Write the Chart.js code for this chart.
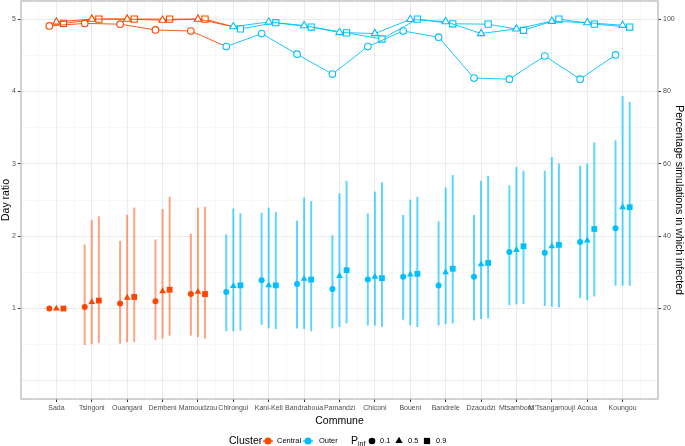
<!DOCTYPE html>
<html>
<head>
<meta charset="utf-8">
<script src="https://cdn.jsdelivr.net/npm/chart.js@4.4.1/dist/chart.umd.min.js"></script>
<style>
  html, body { margin: 0; padding: 0; background: #fff; }
</style>
</head>
<body>
<canvas id="chart" width="685" height="446"></canvas>
<script>
// Communes in plotting order
const communes = ['Sada', 'Tsingoni', 'Ouangani', 'Dembeni', 'Mamoudzou', 'Chirongui', 'Kani-Keli',
  'Bandraboua', 'Pamandzi', 'Chiconi', 'Boueni', 'Bandrele', 'Dzaoudzi', 'Mtsamboro',
  "M'Tsangamouji", 'Acoua', 'Koungou'];
const clusters = ['Central', 'Central', 'Central', 'Central', 'Central', 'Outer', 'Outer', 'Outer',
  'Outer', 'Outer', 'Outer', 'Outer', 'Outer', 'Outer', 'Outer', 'Outer', 'Outer'];
const pinfLevels = ['0.1', '0.5', '0.9'];

// Day ratio (left axis) with intervals
const ratio01 = [1.00, 1.02, 1.07, 1.10, 1.20, 1.23, 1.39, 1.34, 1.27, 1.40, 1.44, 1.32, 1.44, 1.78, 1.77, 1.92, 2.11];
const ratio05 = [1.00, 1.09, 1.15, 1.24, 1.23, 1.31, 1.32, 1.41, 1.45, 1.44, 1.47, 1.50, 1.61, 1.81, 1.86, 1.94, 2.40];
const ratio09 = [1.00, 1.11, 1.16, 1.26, 1.20, 1.32, 1.32, 1.40, 1.53, 1.42, 1.48, 1.55, 1.63, 1.86, 1.88, 2.10, 2.40];
const low01 = [1.00, 0.50, 0.52, 0.57, 0.63, 0.69, 0.78, 0.73, 0.73, 0.77, 0.85, 0.77, 0.84, 1.05, 1.04, 1.15, 1.32];
const high01 = [1.00, 1.88, 1.93, 1.95, 2.03, 2.02, 2.32, 2.21, 2.01, 2.31, 2.29, 2.20, 2.29, 2.70, 2.90, 2.97, 3.32];
const low05 = [1.00, 0.51, 0.54, 0.59, 0.61, 0.69, 0.73, 0.72, 0.75, 0.77, 0.77, 0.79, 0.86, 1.06, 1.03, 1.12, 1.32];
const high05 = [1.00, 2.22, 2.29, 2.37, 2.39, 2.38, 2.39, 2.53, 2.59, 2.61, 2.50, 2.67, 2.76, 2.95, 3.09, 3.00, 3.93];
const low09 = [1.00, 0.53, 0.54, 0.63, 0.59, 0.70, 0.72, 0.69, 0.80, 0.75, 0.75, 0.80, 0.87, 1.07, 1.02, 1.17, 1.32];
const high09 = [1.00, 2.27, 2.39, 2.54, 2.40, 2.31, 2.33, 2.48, 2.76, 2.74, 2.54, 2.84, 2.83, 2.90, 3.00, 3.29, 3.85];

// Percentage of simulations in which infected (right axis)
const pct01 = [98.1, 98.8, 98.6, 97.0, 96.7, 92.4, 96.0, 90.3, 84.8, 92.4, 96.7, 95.0, 83.7, 83.4, 89.8, 83.4, 90.1];
const pct05 = [99.2, 100, 100, 99.7, 100, 97.9, 99.2, 98.2, 96.3, 96.0, 99.9, 99.3, 96.0, 97.3, 99.4, 99.0, 98.3];
const pct09 = [98.8, 100, 100, 100, 100, 97.3, 99.0, 97.8, 96.2, 94.5, 100, 98.7, 98.6, 96.9, 100, 98.6, 97.8];

// Axis ticks
const dayTicks = [1, 2, 3, 4, 5];
const pctTicks = [20, 40, 60, 80, 100];

const RED = '#FF4500';
const BLUE = '#00BFFF';
const FONT = "'Liberation Sans', Arial, sans-serif";
const colorOf = (i) => clusters[i] === 'Central' ? RED : BLUE;
const barColorOf = (i) => clusters[i] === 'Central' ? 'rgba(255,69,0,0.5)' : 'rgba(0,191,255,0.65)';

const shapes = ['circle', 'triangle', 'rect'];
const radii = [3.3, 4.2, 4.4];
const dodge = [-0.2, 0, 0.2];
const ratios = [ratio01, ratio05, ratio09];
const lows = [low01, low05, low09];
const highs = [high01, high05, high09];
const pcts = [pct01, pct05, pct09];

Chart.defaults.font.family = FONT;

const datasets = [];
pinfLevels.forEach((p, k) => {
    // interval bars
    datasets.push({
        type: 'bar',
        label: 'interval ' + p,
        data: communes.map((c, i) => ({ x: i + 1 + dodge[k], y: [lows[k][i], highs[k][i]] })),
        backgroundColor: communes.map((c, i) => barColorOf(i)),
        barThickness: 1.3,
        grouped: false,
        borderWidth: 0,
        yAxisID: 'y',
        order: 3
    });
    // day ratio points
    datasets.push({
        type: 'line',
        label: 'ratio ' + p,
        data: communes.map((c, i) => ({ x: i + 1 + dodge[k], y: ratios[k][i] })),
        showLine: false,
        pointStyle: shapes[k],
        pointRadius: radii[k] - 0.3,
        pointBorderWidth: 0,
        pointBackgroundColor: communes.map((c, i) => colorOf(i)),
        pointBorderColor: communes.map((c, i) => colorOf(i)),
        yAxisID: 'y',
        order: 1
    });
    // percentage infected lines
    datasets.push({
        type: 'line',
        label: 'pct ' + p,
        data: communes.map((c, i) => ({ x: i + 1 + dodge[k], y: pcts[k][i] })),
        borderWidth: 0.9,
        borderColor: RED,
        segment: { borderColor: (ctx) => colorOf(ctx.p0DataIndex) },
        fill: false,
        tension: 0,
        pointStyle: shapes[k],
        pointRadius: radii[k],
        pointBorderWidth: 1.1,
        pointBackgroundColor: '#fff',
        pointBorderColor: communes.map((c, i) => colorOf(i)),
        yAxisID: 'y2',
        order: 2
    });
});

const gridColor = (v) => Number.isInteger(v) ? '#EBEBEB' : '#F4F4F4';
const gridWidth = (v) => Number.isInteger(v) ? 1 : 0.6;

const decorations = {
    id: 'decorations',
    afterDraw(chart) {
        const { ctx, chartArea: a } = chart;
        ctx.save();
        ctx.strokeStyle = '#BBBBBB';
        ctx.lineWidth = 1.3;
        ctx.strokeRect(a.left, a.top, a.right - a.left, a.bottom - a.top);

        ctx.fillStyle = '#000';
        ctx.textBaseline = 'middle';
        ctx.textAlign = 'center';
        ctx.font = '10.5px ' + FONT;
        ctx.fillText('Commune', (a.left + a.right) / 2, 421);

        // legend
        const ly = 441;
        ctx.textAlign = 'left';
        ctx.font = '10.5px ' + FONT;
        ctx.fillText('Cluster', 229, ly);
        [[268, RED, 'Central', 277], [308, BLUE, 'Outer', 319]].forEach(([x, col, txt, tx]) => {
            ctx.strokeStyle = col;
            ctx.lineWidth = 1.2;
            ctx.beginPath();
            ctx.moveTo(x - 5, ly);
            ctx.lineTo(x + 5, ly);
            ctx.stroke();
            ctx.fillStyle = col;
            Chart.helpers.drawPoint(ctx, { pointStyle: 'circle', rotation: 0, radius: 3.5, borderWidth: 0 }, x, ly);
            ctx.fillStyle = '#000';
            ctx.font = '7.5px ' + FONT;
            ctx.fillText(txt, tx, ly);
        });
        ctx.font = '10.5px ' + FONT;
        ctx.fillText('P', 351, ly);
        ctx.font = '7px ' + FONT;
        ctx.fillText('inf', 358, ly + 3);
        [[372, 380], [399, 408], [427, 436]].forEach(([x, tx], k) => {
            ctx.fillStyle = '#000';
            Chart.helpers.drawPoint(ctx, { pointStyle: shapes[k], rotation: 0, radius: radii[k], borderWidth: 0 }, x, ly);
            ctx.font = '7.5px ' + FONT;
            ctx.fillText(pinfLevels[k], tx, ly);
        });
        ctx.restore();
    }
};

new Chart(document.getElementById('chart'), {
    data: { datasets },
    options: {
        responsive: false,
        animation: false,
        devicePixelRatio: 1,
        layout: { autoPadding: false, padding: { top: 1, left: 0, right: 0, bottom: 0 } },
        plugins: { legend: { display: false }, tooltip: { enabled: false } },
        scales: {
            x: {
                type: 'linear',
                min: 0,
                max: 18,
                offset: false,
                afterBuildTicks: (s) => { s.ticks = Array.from({ length: 35 }, (_, i) => ({ value: 0.5 + i * 0.5 })); },
                afterFit: (s) => { s.height = 47; s.paddingLeft = 0; s.paddingRight = 0; },
                border: { display: false },
                grid: {
                    offset: false,
                    color: (c) => gridColor(c.tick.value),
                    lineWidth: (c) => gridWidth(c.tick.value),
                    tickLength: 3,
                    tickColor: (c) => Number.isInteger(c.tick.value) ? '#333' : 'rgba(0,0,0,0)'
                },
                ticks: {
                    autoSkip: false,
                    maxRotation: 0,
                    minRotation: 0,
                    padding: 2,
                    color: '#4D4D4D',
                    font: { size: 7 },
                    callback: (v) => Number.isInteger(v) ? communes[v - 1] : ''
                }
            },
            y: {
                position: 'left',
                min: -0.25,
                max: 5.25,
                afterBuildTicks: (s) => { s.ticks = Array.from({ length: 11 }, (_, i) => ({ value: i * 0.5 })); },
                afterFit: (s) => { s.width = 21; s.paddingTop = 0; s.paddingBottom = 0; },
                border: { display: false },
                grid: {
                    color: (c) => gridColor(c.tick.value),
                    lineWidth: (c) => gridWidth(c.tick.value),
                    tickLength: 3,
                    tickColor: (c) => dayTicks.includes(c.tick.value) ? '#333' : 'rgba(0,0,0,0)'
                },
                ticks: {
                    padding: 2,
                    color: '#4D4D4D',
                    font: { size: 7 },
                    callback: (v) => dayTicks.includes(v) ? String(v) : ''
                },
                title: { display: true, text: 'Day ratio', color: '#000', font: { size: 10.5 }, padding: 0 }
            },
            y2: {
                position: 'right',
                min: -5,
                max: 105,
                afterBuildTicks: (s) => { s.ticks = pctTicks.map((v) => ({ value: v })); },
                afterFit: (s) => { s.width = 27; s.paddingTop = 0; s.paddingBottom = 0; },
                border: { display: false },
                grid: {
                    drawOnChartArea: false,
                    color: 'rgba(0,0,0,0)',
                    tickLength: 3,
                    tickColor: '#333'
                },
                ticks: {
                    padding: 2,
                    color: '#4D4D4D',
                    font: { size: 7 },
                    callback: (v) => String(v)
                },
                title: { display: true, text: 'Percentage simulations in which infected', color: '#000', font: { size: 10.5 }, padding: 0 }
            }
        }
    },
    plugins: [decorations]
});
</script>
</body>
</html>
